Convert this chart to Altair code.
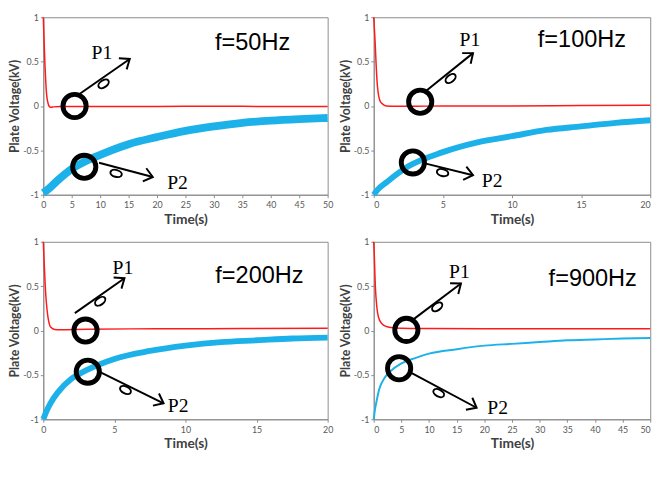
import math
import altair as alt
import pandas as pd

RED = "#ff1a1a"
BLUE = "#1db1ea"

# ---------- f = 50 Hz (0..50 s) ----------
red_t_50 = [0, 0.15, 0.3, 0.45, 0.6, 0.8, 1.0, 1.3, 1.8, 3, 10, 20, 30, 40, 50]
red_v_50 = [1.0, 0.72, 0.45, 0.25, 0.12, 0.04, 0.0, -0.015, -0.01, -0.005, -0.005, -0.005, -0.003, -0.005, -0.005]
blue_t_50 = [0, 1, 2.5, 5, 7.5, 10, 15, 20, 25, 30, 35, 40, 45, 50]
blue_v_50 = [-0.98, -0.93, -0.84, -0.71, -0.62, -0.55, -0.43, -0.35, -0.28, -0.23, -0.19, -0.165, -0.148, -0.135]
circ_x_50 = [5.5, 7.2]
circ_y_50 = [0.0, -0.685]
shaft_x_50 = [6.3, 9.8]
shaft_y_50 = [0.133, -0.64]
tip_x_50 = [15.2, 19.25]
tip_y_50 = [0.53, -0.80]
loop_x_50 = [10.6, 12.8]
loop_y_50 = [0.25, -0.76]
lab_x_50 = [10.3, 23.6]
lab_y_50 = [0.6, -0.87]
freq_50 = ["f=50Hz", 36.8, 0.71]

# ---------- f = 100 Hz (0..20 s) ----------
red_t_100 = [0, 0.1, 0.19, 0.27, 0.35, 0.45, 0.58, 0.75, 0.93, 1.5, 3, 5, 10, 15, 20]
red_v_100 = [1.0, 0.72, 0.41, 0.22, 0.12, 0.06, 0.03, 0.01, 0.0, -0.003, -0.003, 0.0, 0.0, 0.005, 0.008]
blue_t_100 = [0, 0.3, 1, 2.5, 5, 7.5, 10, 12.5, 15, 17.5, 20]
blue_v_100 = [-1.0, -0.94, -0.85, -0.68, -0.52, -0.41, -0.34, -0.27, -0.23, -0.19, -0.16]
circ_x_100 = [3.36, 2.83]
circ_y_100 = [0.048, -0.636]
shaft_x_100 = [3.82, 3.7]
shaft_y_100 = [0.175, -0.647]
tip_x_100 = [7.18, 7.18]
tip_y_100 = [0.596, -0.78]
loop_x_100 = [5.56, 4.98]
loop_y_100 = [0.31, -0.75]
lab_x_100 = [6.95, 8.57]
lab_y_100 = [0.74, -0.85]
freq_100 = ["f=100Hz", 15.06, 0.74]

# ---------- f = 200 Hz (0..20 s) ----------
red_t_200 = [0, 0.08, 0.18, 0.26, 0.34, 0.43, 0.53, 0.8, 1.2, 3, 8, 14, 20]
red_v_200 = [1.0, 0.7, 0.39, 0.24, 0.14, 0.07, 0.036, 0.012, 0.01, 0.015, 0.02, 0.022, 0.025]
blue_t_200 = [0, 0.25, 0.5, 1, 2, 3, 5, 7.5, 10, 12.5, 15, 17.5, 20]
blue_v_200 = [-1.0, -0.9, -0.82, -0.70, -0.54, -0.45, -0.32, -0.23, -0.17, -0.13, -0.11, -0.09, -0.08]
circ_x_200 = [2.97, 3.13]
circ_y_200 = [0.0, -0.464]
shaft_x_200 = [2.22, 3.89]
shaft_y_200 = [0.196, -0.46]
tip_x_200 = [5.71, 8.46]
tip_y_200 = [0.59, -0.82]
loop_x_200 = [4.0, 5.78]
loop_y_200 = [0.33, -0.67]
lab_x_200 = [5.6, 9.49]
lab_y_200 = [0.70, -0.85]
freq_200 = ["f=200Hz", 15.2, 0.61]

# ---------- f = 900 Hz (0..50 s) ----------
red_t_900 = [0, 0.1, 0.2, 0.29, 0.57, 0.86, 1.44, 2.3, 3.5, 5, 10, 20, 30, 40, 50]
red_v_900 = [1.0, 0.85, 0.65, 0.5, 0.26, 0.15, 0.08, 0.045, 0.03, 0.025, 0.022, 0.02, 0.02, 0.02, 0.02]
blue_t_900 = [0, 0.25, 0.5, 1, 2, 3, 5, 7.5, 10, 15, 20, 25, 30, 35, 40, 45, 50]
blue_v_900 = [-1.0, -0.88, -0.8, -0.66, -0.53, -0.46, -0.37, -0.31, -0.26, -0.21, -0.17, -0.15, -0.13, -0.11, -0.10, -0.09, -0.083]
circ_x_900 = [5.9, 4.59]
circ_y_900 = [0.007, -0.425]
shaft_x_900 = [7.17, 6.88]
shaft_y_900 = [0.126, -0.48]
tip_x_900 = [15.77, 18.6]
tip_y_900 = [0.53, -0.87]
loop_x_900 = [11.47, 11.75]
loop_y_900 = [0.267, -0.705]
lab_x_900 = [15.5, 22.4]
lab_y_900 = [0.656, -0.87]
freq_900 = ["f=900Hz", 39.6, 0.58]

LABELS = ["P1", "P2"]
Y_TICKS = [-1, -0.5, 0, 0.5, 1]

CHEVRON = "M-1,-0.8 L0,0 L-1,0.8"
ELLIPSE = "M-1,0 A1,0.6 0 1,0 1,0 A1,0.6 0 1,0 -1,0 Z"


def panel(xmax, w, h, rt, rv, bt, bv, bw, cx, cy, sx, sy, tx, ty, lpx, lpy, lbx, lby, freq, flush):
    xs = alt.Scale(domain=[0, xmax], nice=False, zero=False)
    ys = alt.Scale(domain=[-1, 1], nice=False, zero=False)
    xa = alt.Axis(values=list(range(0, xmax + 1, 5)), title="Time(s)", labelFlush=flush)
    ya = alt.Axis(values=Y_TICKS, title="Plate Voltage(kV)", labelExpr="'' + datum.value")

    def X(f):
        return alt.X(f, type="quantitative", scale=xs, axis=xa)

    def Y(f):
        return alt.Y(f, type="quantitative", scale=ys, axis=ya)

    ppx = w / xmax
    ppy = h / 2.0
    ang = [math.degrees(math.atan2(-(ty[i] - sy[i]) * ppy, (tx[i] - sx[i]) * ppx)) % 360 for i in range(2)]

    blue = alt.Chart(pd.DataFrame({"t": bt, "v": bv})).mark_line(
        color=BLUE, strokeWidth=bw, interpolate="monotone").encode(x=X("t"), y=Y("v"))
    red = alt.Chart(pd.DataFrame({"t": rt, "v": rv})).mark_line(
        color=RED, strokeWidth=1.5, interpolate="monotone").encode(x=X("t"), y=Y("v"))
    circ = alt.Chart(pd.DataFrame({"x": cx, "y": cy})).mark_point(
        shape="circle", filled=False, stroke="black", strokeWidth=5, size=560, opacity=1
    ).encode(x=X("x"), y=Y("y"))
    shafts = alt.Chart(pd.DataFrame({"x": sx, "y": sy, "x2": tx, "y2": ty})).mark_rule(
        color="black", strokeWidth=2).encode(x=X("x"), y=Y("y"), x2="x2", y2="y2")
    heads = alt.Chart(pd.DataFrame({"x": tx, "y": ty, "a": ang})).mark_point(
        shape=CHEVRON, filled=False, stroke="black", strokeWidth=2, size=300, opacity=1
    ).encode(x=X("x"), y=Y("y"), angle=alt.Angle("a:Q", scale=None))
    loops = alt.Chart(pd.DataFrame({"x": lpx, "y": lpy, "a": ang})).mark_point(
        shape=ELLIPSE, filled=False, stroke="black", strokeWidth=2, size=140, opacity=1
    ).encode(x=X("x"), y=Y("y"), angle=alt.Angle("a:Q", scale=None))
    labs = alt.Chart(pd.DataFrame({"x": lbx, "y": lby, "s": LABELS})).mark_text(
        font="Liberation Serif", fontSize=20, color="black"
    ).encode(x=X("x"), y=Y("y"), text="s:N")
    fr = alt.Chart(pd.DataFrame({"x": [freq[1]], "y": [freq[2]], "s": [freq[0]]})).mark_text(
        font="Liberation Sans", fontSize=24, color="black"
    ).encode(x=X("x"), y=Y("y"), text="s:N")
    return alt.layer(blue, red, circ, shafts, heads, loops, labs, fr).properties(width=w, height=h)


p50 = panel(50, 290, 181, red_t_50, red_v_50, blue_t_50, blue_v_50, 8,
            circ_x_50, circ_y_50, shaft_x_50, shaft_y_50, tip_x_50, tip_y_50,
            loop_x_50, loop_y_50, lab_x_50, lab_y_50, freq_50, False)
p100 = panel(20, 282, 181, red_t_100, red_v_100, blue_t_100, blue_v_100, 6,
             circ_x_100, circ_y_100, shaft_x_100, shaft_y_100, tip_x_100, tip_y_100,
             loop_x_100, loop_y_100, lab_x_100, lab_y_100, freq_100, True)
p200 = panel(20, 290, 181, red_t_200, red_v_200, blue_t_200, blue_v_200, 6,
             circ_x_200, circ_y_200, shaft_x_200, shaft_y_200, tip_x_200, tip_y_200,
             loop_x_200, loop_y_200, lab_x_200, lab_y_200, freq_200, False)
p900 = panel(50, 282, 181, red_t_900, red_v_900, blue_t_900, blue_v_900, 2,
             circ_x_900, circ_y_900, shaft_x_900, shaft_y_900, tip_x_900, tip_y_900,
             loop_x_900, loop_y_900, lab_x_900, lab_y_900, freq_900, True)

chart = alt.concat(
    p50, p100, p200, p900, columns=2, bounds="flush",
    spacing={"row": 48, "column": 47},
).properties(
    padding={"left": 0, "top": 0, "right": 0, "bottom": 0}
).configure_view(
    stroke="#8c8c8c", strokeWidth=1
).configure_axis(
    grid=False,
    domainColor="#8c8c8c",
    tickColor="#8c8c8c",
    tickSize=3,
    labelFont="Lato",
    labelFontSize=9,
    labelColor="#595959",
    titleColor="#404040",
    titleFont="Lato",
    titleFontWeight="bold",
).configure_axisX(
    titleFontSize=14,
    titlePadding=3,
    labelPadding=3,
).configure_axisY(
    titleFontSize=12.5,
    titlePadding=1,
    labelPadding=2,
)

chart.save("out.html", embed_options={"renderer": "svg", "actions": False})
